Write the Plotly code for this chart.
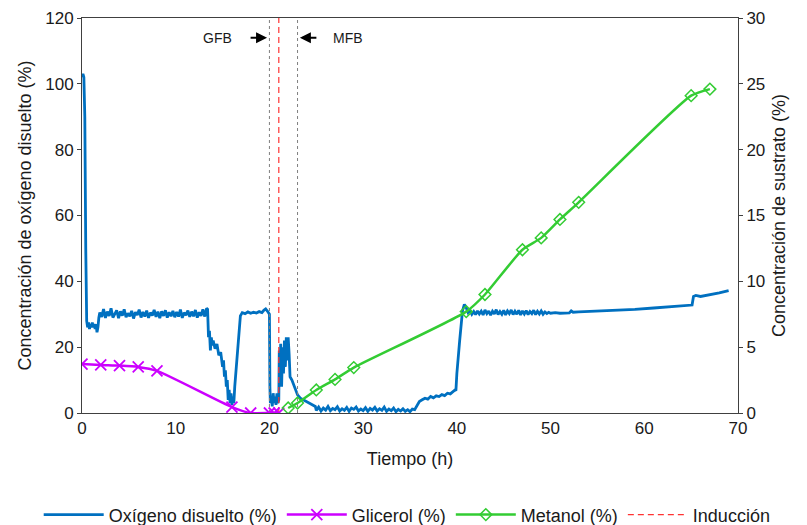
import plotly.graph_objects as go

# ---------------- data ----------------
oxy_pairs = [
    (0.0, 102), (0.1, 103), (0.2, 102), (0.3, 90), (0.4, 50), (0.5, 28), (0.6, 26), (0.7, 27.5),
    (0.8, 25.5), (0.9, 27), (1.0, 26), (1.1, 27.5), (1.2, 26), (1.3, 27), (1.4, 25.5), (1.5, 27),
    (1.6, 24.5), (1.7, 26), (1.8, 29),
    (1.9, 30.5), (2.1, 29.2), (2.3, 31.6), (2.5, 28.9), (2.7, 30.8), (2.9, 29.5), (3.1, 31.8),
    (3.3, 29.0), (3.5, 30.4), (3.7, 31.2), (3.9, 28.8), (4.1, 30.9), (4.3, 29.6), (4.5, 31.5),
    (4.7, 29.1), (4.9, 30.3), (5.1, 29.4), (5.3, 31.0), (5.5, 28.7), (5.7, 30.6), (5.9, 29.8),
    (6.1, 31.4), (6.3, 29.0), (6.5, 30.7), (6.7, 29.3), (6.9, 31.1), (7.1, 28.9), (7.3, 30.5),
    (7.5, 29.6), (7.7, 31.3), (7.9, 29.2), (8.1, 30.8), (8.3, 28.8), (8.5, 30.9), (8.7, 29.5),
    (8.9, 31.2), (9.1, 29.0), (9.3, 30.6), (9.5, 29.4), (9.7, 31.0), (9.9, 29.1), (10.1, 30.7),
    (10.3, 29.3), (10.5, 31.4), (10.7, 28.9), (10.9, 30.5), (11.1, 29.7), (11.3, 31.1), (11.5, 29.2),
    (11.7, 30.8), (11.9, 29.4), (12.1, 31.3), (12.3, 29.0), (12.5, 30.6), (12.7, 29.5), (12.9, 31.5),
    (13.1, 29.3), (13.3, 31.8),
    (13.4, 31.5), (13.5, 23), (13.6, 25), (13.7, 19), (13.8, 23), (13.9, 20.5), (14.0, 22),
    (14.2, 19.5), (14.4, 21), (14.6, 17.5), (14.8, 18.5), (15.0, 14), (15.1, 16), (15.2, 11),
    (15.3, 13), (15.4, 8), (15.5, 10), (15.6, 4), (15.7, 7), (15.8, 3), (15.9, 6), (16.0, 2.5),
    (16.1, 5), (16.2, 3), (16.3, 8), (16.5, 16), (16.7, 24), (16.9, 29.5), (17.1, 30.5),
    (17.4, 30.2), (17.7, 30.7), (18.0, 30.3), (18.3, 30.6), (18.6, 30.4), (18.9, 30.8), (19.2, 30.5),
    (19.4, 31.2), (19.6, 31.6), (19.8, 30.9), (19.95, 30.2),
    (20.0, 30), (20.05, 8), (20.1, 3), (20.2, 5), (20.3, 2), (20.4, 6), (20.5, 3), (20.6, 5),
    (20.7, 2.5), (20.8, 6), (20.9, 3), (21.0, 4), (21.05, 19), (21.1, 10), (21.2, 21), (21.3, 8),
    (21.4, 20), (21.5, 12), (21.6, 22), (21.7, 14), (21.8, 23), (21.9, 16), (22.0, 23), (22.1, 18),
    (22.2, 11), (22.4, 10), (22.6, 8.5), (22.8, 7), (23.0, 5.5), (23.3, 4.5), (23.6, 4), (24.0, 3.5),
    (24.3, 3), (24.6, 2.5), (24.9, 2.0),
    (25.0, 0.8), (25.25, 1.8), (25.5, 0.6), (25.75, 1.5), (26.0, 0.9), (26.25, 2.0), (26.5, 0.7),
    (26.75, 1.4), (27.0, 1.0), (27.25, 1.9), (27.5, 0.6), (27.75, 1.3), (28.0, 0.8), (28.25, 1.7),
    (28.5, 0.5), (28.75, 1.5), (29.0, 1.1), (29.25, 1.8), (29.5, 0.6), (29.75, 1.2), (30.0, 0.7),
    (30.25, 1.6), (30.5, 0.5), (30.75, 1.4), (31.0, 0.9), (31.25, 1.7), (31.5, 0.6), (31.75, 1.3),
    (32.0, 0.8), (32.25, 1.8), (32.5, 0.5), (32.75, 1.2), (33.0, 0.7), (33.25, 1.5), (33.5, 0.4),
    (33.75, 1.1), (34.0, 0.6), (34.25, 1.3), (34.5, 0.5), (34.75, 1.0), (35.0, 0.4), (35.25, 1.2),
    (35.5, 1.0), (35.8, 2.5), (36.0, 3.5), (36.3, 4.0), (36.6, 4.5), (36.9, 4.2), (37.2, 5.0),
    (37.5, 4.6), (37.8, 5.2), (38.1, 5.0), (38.4, 5.6), (38.7, 5.3), (39.0, 6.0), (39.3, 5.8),
    (39.6, 6.5), (39.8, 7.0), (39.9, 6.8), (40.0, 12), (40.3, 22), (40.6, 31), (40.8, 33), (41.0, 32),
    (41.2, 30.5), (41.4, 31.2), (41.6, 30.0), (41.8, 30.8), (42.0, 29.9), (42.2, 31.0), (42.4, 30.1),
    (42.6, 30.9), (42.8, 29.8), (43.0, 31.3), (43.2, 30.2), (43.4, 31.0), (43.6, 29.7), (43.8, 30.9),
    (44.0, 30.1), (44.2, 31.4), (44.4, 29.9), (44.6, 30.8), (44.8, 30.0), (45.0, 31.2), (45.2, 29.8),
    (45.4, 31.0), (45.6, 30.2), (45.8, 31.3), (46.0, 29.9), (46.2, 30.9), (46.4, 30.0), (46.6, 31.2),
    (46.8, 29.8), (47.0, 31.0), (47.2, 30.1), (47.4, 31.1), (47.6, 29.9), (47.8, 30.8), (48.0, 30.2),
    (48.2, 31.2), (48.4, 29.9), (48.6, 30.9), (48.8, 30.1), (49.0, 31.0), (49.2, 30.0), (49.4, 30.7),
    (49.6, 30.2), (49.8, 30.6), (50.0, 30.3),
    (50.5, 30.5), (51.0, 30.3), (51.5, 30.4), (52.0, 30.4), (52.2, 31.0), (52.4, 30.6), (53.0, 30.7),
    (55.0, 30.9), (57.0, 31.2), (59.0, 31.5), (61.0, 31.9), (62.5, 32.2), (64.0, 32.6), (65.1, 32.8),
    (65.25, 35.4), (65.5, 35.7), (66.0, 35.4), (67.0, 35.9), (68.0, 36.5), (69.0, 37.2),
]
oxy_t = [p[0] for p in oxy_pairs]
oxy_v = [p[1] for p in oxy_pairs]

gli_t = [0, 2, 4, 6, 8, 16, 18, 20, 20.5, 21]
gli_v = [3.72, 3.65, 3.6, 3.5, 3.2, 0.45, 0.0, 0.0, 0.0, 0.0]

met_t = [22, 23, 25, 27, 29, 41, 43, 47, 49, 51, 53, 65, 67]
met_v = [0.38, 0.76, 1.75, 2.55, 3.45, 7.7, 9.0, 12.4, 13.3, 14.7, 16.0, 24.1, 24.6]

induccion_t = 21
gfb_t = 20
mfb_t = 23

# ---------------- figure ----------------
FONT = "Liberation Sans, Arial, sans-serif"
TXT = "#1a1a1a"
AX = "#404040"

fig = go.Figure()

fig.add_trace(go.Scatter(
    x=oxy_t, y=oxy_v, mode="lines", name="Oxígeno disuelto (%)",
    line=dict(color="#0070C0", width=2.8), yaxis="y"))

fig.add_trace(go.Scatter(
    x=gli_t, y=gli_v, mode="lines+markers", name="Glicerol (%)",
    line=dict(color="#CC00FF", width=2.5, shape="spline", smoothing=0.6),
    marker=dict(symbol="x-thin", size=11, line=dict(color="#CC00FF", width=1.8)),
    yaxis="y2"))

fig.add_trace(go.Scatter(
    x=met_t, y=met_v, mode="lines+markers", name="Metanol (%)",
    line=dict(color="#33CC33", width=2.5, shape="spline", smoothing=0.6),
    marker=dict(symbol="diamond-open", size=9, color="#33CC33", line=dict(width=1.5)),
    yaxis="y2"))

# phase boundaries (gray dashed)
for t in (gfb_t, mfb_t):
    fig.add_trace(go.Scatter(
        x=[t, t], y=[0, 120], mode="lines", showlegend=False, hoverinfo="skip",
        line=dict(color="#7F7F7F", width=1, dash="3px,3px"), yaxis="y"))

# induction line (red dashed)
fig.add_trace(go.Scatter(
    x=[induccion_t, induccion_t], y=[0, 120], mode="lines", name="Inducción",
    line=dict(color="#FF3333", width=1.2, dash="6px,4px"), yaxis="y"))

# GFB / MFB annotations
fig.add_annotation(x=gfb_t - 0.25, y=114, xref="x", yref="y", ax=-18, ay=0,
                   showarrow=True, arrowhead=2, arrowsize=1, arrowwidth=2.2,
                   arrowcolor="black", text="")
fig.add_annotation(x=14.5, y=114, xref="x", yref="y", text="GFB", showarrow=False,
                   font=dict(family=FONT, size=14, color=TXT))
fig.add_annotation(x=mfb_t + 0.25, y=114, xref="x", yref="y", ax=18, ay=0,
                   showarrow=True, arrowhead=2, arrowsize=1, arrowwidth=2.2,
                   arrowcolor="black", text="")
fig.add_annotation(x=28.4, y=114, xref="x", yref="y", text="MFB", showarrow=False,
                   font=dict(family=FONT, size=14, color=TXT))

fig.update_layout(
    width=807, height=525,
    margin=dict(l=82, r=69, t=18, b=112, autoexpand=False),
    paper_bgcolor="white", plot_bgcolor="white",
    font=dict(family=FONT, size=17, color=TXT),
    showlegend=True,
    legend=dict(orientation="h", x=-0.066, xanchor="left", y=-0.258, yanchor="middle",
                font=dict(family=FONT, size=18, color=TXT), itemwidth=60,
                bgcolor="rgba(0,0,0,0)"),
    xaxis=dict(range=[0, 70], dtick=10, showgrid=False, zeroline=False,
               showline=True, linecolor=AX, linewidth=1, mirror=True,
               ticks="", tickfont=dict(size=17, color=TXT),
               title=dict(text="Tiempo (h)", font=dict(size=18, color=TXT), standoff=14)),
    yaxis=dict(range=[0, 120], dtick=20, showgrid=False, zeroline=False,
               showline=True, linecolor=AX, linewidth=1,
               ticks="outside", ticklen=4, tickcolor=AX, tickfont=dict(size=17, color=TXT),
               title=dict(text="Concentración de oxígeno disuelto (%)",
                          font=dict(size=18, color=TXT), standoff=8)),
    yaxis2=dict(range=[0, 30], dtick=5, overlaying="y", side="right", showgrid=False,
                zeroline=False, showline=True, linecolor=AX, linewidth=1,
                ticks="outside", ticklen=4, tickcolor=AX, tickfont=dict(size=17, color=TXT),
                title=dict(text="Concentración de sustrato (%)",
                           font=dict(size=18, color=TXT), standoff=8)),
)

fig.write_html("out.html")
